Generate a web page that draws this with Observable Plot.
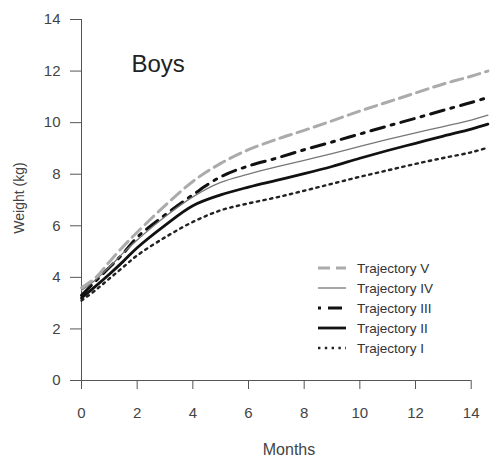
<!DOCTYPE html>
<html><head><meta charset="utf-8">
<script src="https://cdn.jsdelivr.net/npm/d3@7"></script>
<script src="https://cdn.jsdelivr.net/npm/@observablehq/plot@0.6"></script>
<style>body{margin:0;background:#fff;}</style>
</head><body><div id="chart"></div>
<script>
const months = [0, 0.5, 1, 1.5, 2, 3, 4, 5, 6, 7, 8, 9, 10, 11, 12, 13, 14, 14.6];
const trajV   = [3.6, 3.98, 4.6, 5.2, 5.75, 6.78, 7.72, 8.42, 8.95, 9.35, 9.7, 10.07, 10.45, 10.8, 11.15, 11.5, 11.8, 12.0];
const trajIV  = [3.5, 3.9, 4.4, 4.95, 5.45, 6.35, 7.12, 7.68, 8.0, 8.28, 8.54, 8.8, 9.08, 9.35, 9.6, 9.85, 10.1, 10.29];
const trajIII = [3.3, 3.85, 4.38, 4.93, 5.55, 6.42, 7.2, 7.9, 8.32, 8.62, 8.95, 9.25, 9.56, 9.87, 10.17, 10.48, 10.78, 10.98];
const trajII  = [3.2, 3.65, 4.12, 4.62, 5.15, 6.02, 6.78, 7.2, 7.5, 7.76, 8.02, 8.3, 8.62, 8.92, 9.2, 9.48, 9.75, 9.94];
const trajI   = [3.1, 3.5, 3.95, 4.4, 4.85, 5.55, 6.15, 6.6, 6.87, 7.1, 7.36, 7.63, 7.9, 8.15, 8.4, 8.63, 8.85, 9.03];
const seriesNames = ["Trajectory V", "Trajectory IV", "Trajectory III", "Trajectory II", "Trajectory I"];
const xTicks = [0, 2, 4, 6, 8, 10, 12, 14];
const yTicks = [0, 2, 4, 6, 8, 10, 12, 14];
const titleText = "Boys";
const yLabel = "Weight (kg)";
const xLabel = "Months";

const values = {
  "Trajectory V": trajV, "Trajectory IV": trajIV, "Trajectory III": trajIII,
  "Trajectory II": trajII, "Trajectory I": trajI
};
const styles = {
  "Trajectory V":   {stroke: "#ababab", width: 3,   dash: "12,6",      legendOffset: 0},
  "Trajectory IV":  {stroke: "#777777", width: 1.3, dash: null,        legendOffset: 0},
  "Trajectory III": {stroke: "#111111", width: 3,   dash: "14,7,3,7",  legendOffset: 21},
  "Trajectory II":  {stroke: "#111111", width: 2.8, dash: null,        legendOffset: 0},
  "Trajectory I":   {stroke: "#222222", width: 2.4, dash: "2.4,4.4",   legendOffset: 0}
};
const rows = name => months.map((m, i) => ({month: m, weight: values[name][i]}));

const lineMarks = seriesNames.slice().reverse().map(name => Plot.line(rows(name), {
  x: "month", y: "weight", curve: "catmull-rom",
  stroke: styles[name].stroke, strokeWidth: styles[name].width,
  strokeDasharray: styles[name].dash
}));

function annotations() {
  const g = d3.create("svg:g").attr("font-family", "'Liberation Sans', Arial, sans-serif");
  seriesNames.forEach((name, i) => {
    const s = styles[name];
    const y = 268 + i * 20;
    g.append("line").attr("x1", 318).attr("x2", 346).attr("y1", y).attr("y2", y)
      .attr("stroke", s.stroke).attr("stroke-width", s.width)
      .attr("stroke-dasharray", s.dash).attr("stroke-dashoffset", s.legendOffset);
    g.append("text").attr("x", 357).attr("y", y).attr("dy", "0.35em")
      .attr("text-anchor", "start").attr("font-size", 13.5).attr("fill", "#333").text(name);
  });
  g.append("text").attr("x", 131.5).attr("y", 72).attr("text-anchor", "start")
    .attr("font-size", 24).attr("fill", "#222").text(titleText);
  g.append("text").attr("transform", "translate(24,198) rotate(-90)")
    .attr("text-anchor", "middle").attr("font-size", 14).attr("fill", "#444").text(yLabel);
  g.append("text").attr("x", 289).attr("y", 455).attr("text-anchor", "middle")
    .attr("font-size", 16).attr("fill", "#444").text(xLabel);
  return g.node();
}

const chart = Plot.plot({
  width: 494, height: 457,
  marginLeft: 81, marginRight: 23.3, marginTop: 19, marginBottom: 77,
  x: {domain: [0, 14]},
  y: {domain: [0, 14]},
  style: {fontFamily: "'Liberation Sans', Arial, sans-serif", fontSize: "15px", color: "#444", background: "#fff"},
  marks: [
    Plot.axisX({ticks: xTicks, tickSize: 9, tickPadding: 18, label: null, stroke: "#555", fontSize: 15}),
    Plot.axisY({ticks: yTicks, tickSize: 11, tickPadding: 10, label: null, stroke: "#555", fontSize: 15}),
    Plot.ruleY([0], {stroke: "#555"}),
    Plot.ruleX([0], {stroke: "#555"}),
    ...lineMarks,
    annotations
  ]
});
document.getElementById("chart").appendChild(chart);
</script>
</body></html>
